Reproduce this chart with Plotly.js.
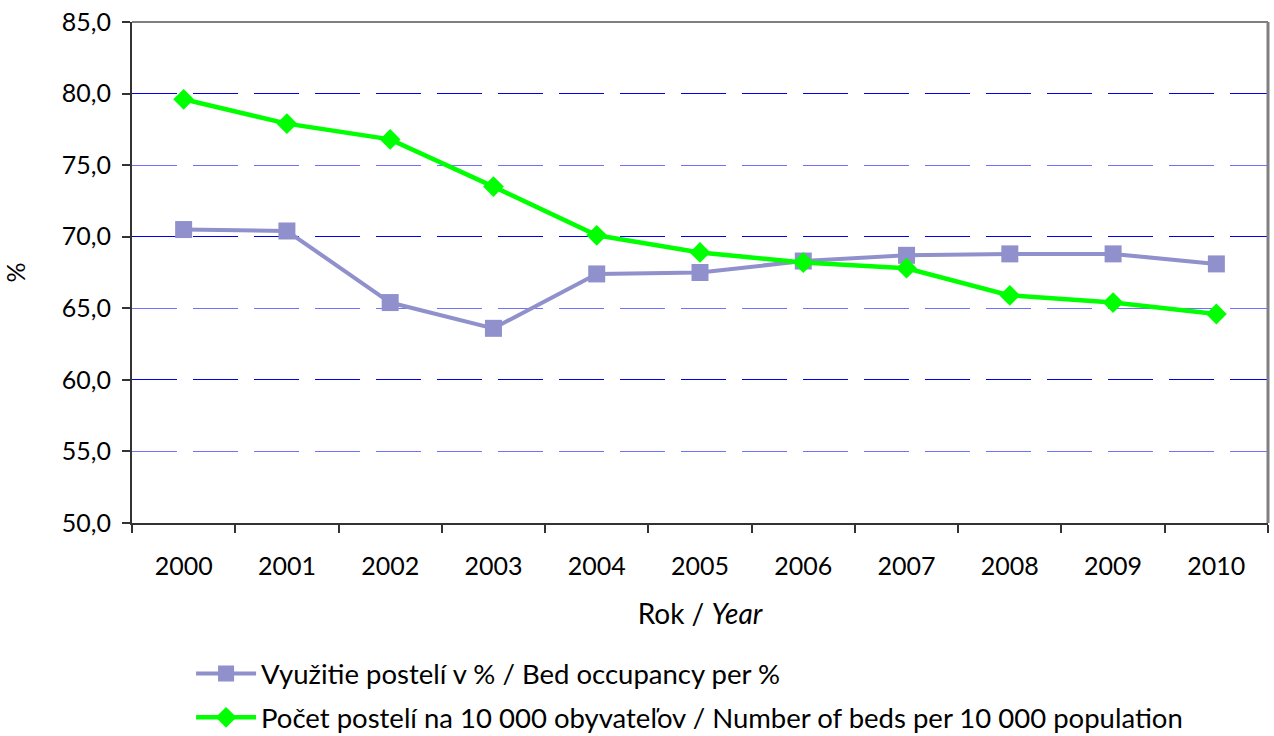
<!DOCTYPE html>
<html><head><meta charset="utf-8">
<script src="https://cdn.plot.ly/plotly-3.0.1.min.js"></script>
<style>html,body{margin:0;padding:0;background:#fff}#chart{width:1274px;height:736px}</style>
</head><body><div id="chart"></div>
<script>
const years = ['2000','2001','2002','2003','2004','2005','2006','2007','2008','2009','2010'];
const occupancy = [70.5, 70.4, 65.4, 63.6, 67.4, 67.5, 68.3, 68.7, 68.8, 68.8, 68.1];
const beds = [79.6, 77.9, 76.8, 73.5, 70.1, 68.9, 68.2, 67.8, 65.9, 65.4, 64.6];
const nameOcc = 'Využitie postelí v % / Bed occupancy per %';
const nameBeds = 'Počet postelí na 10 000 obyvateľov / Number of beds per 10 000 population';

const FONT = 'Lato, "Open Sans", sans-serif';
const yRange = [50, 85];
const dash = '45px,16px';

const traces = [
  {x: years, y: occupancy, yaxis: 'y2', showlegend: false, hoverinfo: 'skip', mode: 'lines', line: {width: 0}, opacity: 0},
  {x: years, y: occupancy, yaxis: 'y3', showlegend: false, hoverinfo: 'skip', mode: 'lines', line: {width: 0}, opacity: 0},
  {x: years, y: occupancy, name: nameOcc, legendgroup: 'a', mode: 'lines+markers', type: 'scatter',
   line: {color: '#9090cc', width: 4}, marker: {symbol: 'square', size: 17, color: '#9090cc'}},
  {x: years, y: beds, name: nameBeds, legendgroup: 'b', mode: 'lines+markers', type: 'scatter',
   line: {color: '#00ff00', width: 4.5}, marker: {symbol: 'diamond', size: 16, color: '#00ff00'}}
];

const layout = {
  width: 1274, height: 736,
  margin: {l: 132, r: 6, t: 22, b: 213},
  paper_bgcolor: '#fff', plot_bgcolor: '#fff',
  separators: ', ',
  font: {family: FONT, size: 25, color: '#000'},
  showlegend: true,
  legend: {xref: 'paper', x: 0.052, xanchor: 'left', yref: 'container', y: 0.118, yanchor: 'top', orientation: 'v',
           font: {family: FONT, size: 27.5, color: '#000'}, itemwidth: 60, tracegroupgap: 5,
           bgcolor: 'rgba(0,0,0,0)', traceorder: 'grouped'},
  xaxis: {type: 'category', range: [-0.5, 10.5], showgrid: false, zeroline: false, automargin: false,
          showline: true, linecolor: '#333', linewidth: 2,
          ticks: 'outside', tickson: 'boundaries', ticklen: 8, tickcolor: '#333', tickwidth: 2,
          ticklabelstandoff: 20, tickfont: {family: FONT, size: 25},
          title: {text: 'Rok / <i>Year</i>', standoff: 25, font: {family: FONT, size: 28}}},
  yaxis: {range: yRange, dtick: 5, tick0: 50, tickformat: '.1f', showgrid: false, zeroline: false, automargin: false,
          showline: true, linecolor: '#333', linewidth: 2,
          ticks: 'outside', ticklen: 8, tickcolor: '#333', tickwidth: 2,
          ticklabelstandoff: 6, tickfont: {family: FONT, size: 25},
          title: {text: '%', standoff: 30, font: {family: FONT, size: 25}}},
  yaxis2: {overlaying: 'y', range: yRange, tick0: 50, dtick: 10, showticklabels: false, ticks: '',
           showgrid: true, gridcolor: '#0000ee', gridwidth: 1, griddash: dash, zeroline: false, showline: false},
  yaxis3: {overlaying: 'y', range: yRange, tick0: 55, dtick: 10, showticklabels: false, ticks: '',
           showgrid: true, gridcolor: '#7070ff', gridwidth: 1, griddash: dash, zeroline: false, showline: false},
  shapes: [
    {type: 'line', xref: 'paper', yref: 'paper', x0: 0, x1: 1, y0: 1, y1: 1, line: {color: '#808080', width: 2}},
    {type: 'line', xref: 'paper', yref: 'paper', x0: 1, x1: 1, y0: 0, y1: 1, line: {color: '#808080', width: 3}}
  ]
};

Plotly.newPlot('chart', traces, layout, {displayModeBar: false, staticPlot: true});
</script></body></html>
